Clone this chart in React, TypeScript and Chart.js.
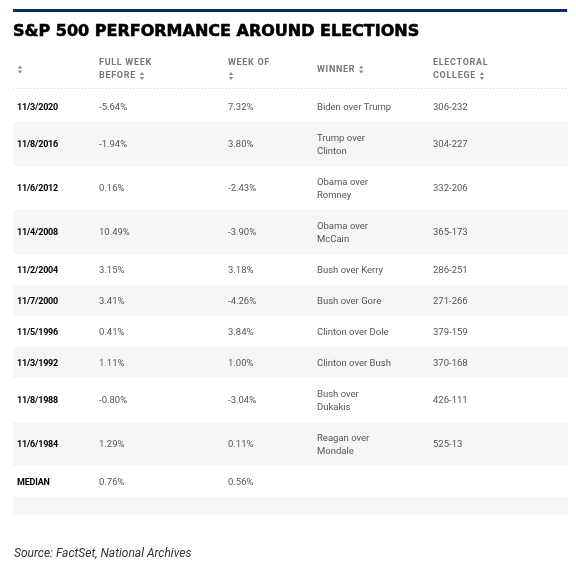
import React, { useEffect, useRef } from "react";
import { Chart, registerables } from "chart.js";

Chart.register(...registerables);

const TITLE = "S&P 500 PERFORMANCE AROUND ELECTIONS";
const SOURCE = "Source: FactSet, National Archives";
const HEADERS = ["", "FULL WEEK\nBEFORE", "WEEK OF\n", "WINNER", "ELECTORAL\nCOLLEGE"];

const dates = ["11/3/2020", "11/8/2016", "11/6/2012", "11/4/2008", "11/2/2004", "11/7/2000", "11/5/1996", "11/3/1992", "11/8/1988", "11/6/1984", "MEDIAN", ""];
const fullWeekBefore = ["-5.64%", "-1.94%", "0.16%", "10.49%", "3.15%", "3.41%", "0.41%", "1.11%", "-0.80%", "1.29%", "0.76%", ""];
const weekOf = ["7.32%", "3.80%", "-2.43%", "-3.90%", "3.18%", "-4.26%", "3.84%", "1.00%", "-3.04%", "0.11%", "0.56%", ""];
const winners = ["Biden over Trump", "Trump over\nClinton", "Obama over\nRomney", "Obama over\nMcCain", "Bush over Kerry", "Bush over Gore", "Clinton over Dole", "Clinton over Bush", "Bush over\nDukakis", "Reagan over\nMondale", "", ""];
const electoral = ["306-232", "304-227", "332-206", "365-173", "286-251", "271-266", "379-159", "370-168", "426-111", "525-13", "", ""];

const COLUMNS = [dates, fullWeekBefore, weekOf, winners, electoral];

export default function App() {
  const ref = useRef<HTMLCanvasElement | null>(null);

  useEffect(() => {
    document.body.style.margin = "0";
    const canvas = ref.current;
    if (!canvas) return;

    const BASE = 18;
    const LINE = 13;
    const COL_X = [17, 99, 228, 317, 433];

    const nRows = dates.length;
    const lineCounts: number[] = [];
    for (let i = 0; i < nRows; i++) {
      let m = 0;
      COLUMNS.forEach((col) => {
        const v = col[i];
        if (v) m = Math.max(m, v.split("\n").length);
      });
      lineCounts.push(m);
    }
    const starts: number[] = [];
    let acc = 0;
    lineCounts.forEach((n) => {
      starts.push(acc);
      acc += BASE + LINE * n;
    });
    const total = acc;

    const datasets = dates.map((d, i) => ({
      label: d || "blank",
      data: [[starts[i], starts[i] + BASE + LINE * lineCounts[i]]] as any,
      backgroundColor: i % 2 === 1 ? "#f6f6f6" : "#ffffff",
      borderWidth: 0,
      grouped: false,
      barPercentage: 1,
      categoryPercentage: 1,
      inflateAmount: 0,
    }));

    const drawSort = (ctx: CanvasRenderingContext2D, x: number, y: number) => {
      ctx.save();
      ctx.fillStyle = "#8a8a8a";
      ctx.beginPath();
      ctx.moveTo(x, y - 4);
      ctx.lineTo(x - 2.2, y - 1);
      ctx.lineTo(x + 2.2, y - 1);
      ctx.closePath();
      ctx.fill();
      ctx.beginPath();
      ctx.moveTo(x, y + 4);
      ctx.lineTo(x - 2.2, y + 1);
      ctx.lineTo(x + 2.2, y + 1);
      ctx.closePath();
      ctx.fill();
      ctx.restore();
    };

    const tablePlugin = {
      id: "tableText",
      afterDatasetsDraw(chart: any) {
        const ctx: CanvasRenderingContext2D = chart.ctx;
        const area = chart.chartArea;
        const yScale = chart.scales.y;
        ctx.save();
        // top rule
        ctx.fillStyle = "#0c2c69";
        ctx.fillRect(area.left, 9, area.right - area.left - 1, 3);
        // title
        ctx.fillStyle = "#000000";
        ctx.strokeStyle = "#000000";
        ctx.lineWidth = 0.6;
        ctx.textBaseline = "middle";
        ctx.textAlign = "left";
        ctx.font = "bold 16px 'DejaVu Sans'";
        ctx.fillText(TITLE, area.left, 32);
        ctx.strokeText(TITLE, area.left, 32);
        // header separator
        ctx.strokeStyle = "#d4d4d4";
        ctx.lineWidth = 1;
        ctx.setLineDash([1, 2]);
        ctx.beginPath();
        ctx.moveTo(area.left, area.top - 2.5);
        ctx.lineTo(area.right, area.top - 2.5);
        ctx.stroke();
        ctx.setLineDash([]);
        // headers
        const hc = 69.5;
        ctx.font = "bold 9px Roboto";
        (ctx as any).letterSpacing = "0.7px";
        ctx.fillStyle = "#777777";
        HEADERS.forEach((h, c) => {
          const lines = h === "" ? [""] : h.split("\n");
          const n = lines.length;
          lines.forEach((ln, k) => {
            const y = hc + (k - (n - 1) / 2) * LINE;
            ctx.fillText(ln, COL_X[c], y);
            if (k === n - 1) {
              const w = ln ? ctx.measureText(ln).width + 6 : 3;
              drawSort(ctx, COL_X[c] + w, y);
            }
          });
        });
        (ctx as any).letterSpacing = "0px";
        // cells
        for (let i = 0; i < nRows; i++) {
          const mid = yScale.getPixelForValue(starts[i] + (BASE + LINE * lineCounts[i]) / 2) + 1;
          COLUMNS.forEach((col, c) => {
            const v = col[i];
            if (!v) return;
            if (c === 0) {
              ctx.font = "bold 9px Roboto";
              ctx.fillStyle = "#000000";
              (ctx as any).letterSpacing = "-0.2px";
            } else {
              ctx.font = "9.5px Roboto";
              ctx.fillStyle = "#555555";
              (ctx as any).letterSpacing = "0px";
            }
            const lines = v.split("\n");
            lines.forEach((ln, k) => {
              ctx.fillText(ln, COL_X[c], mid + (k - (lines.length - 1) / 2) * LINE);
            });
          });
        }
        (ctx as any).letterSpacing = "0px";
        // source
        ctx.font = "italic 12px Roboto";
        ctx.fillStyle = "#333333";
        ctx.fillText(SOURCE, 14, 553.5);
        ctx.restore();
      },
    };

    const chart = new Chart(canvas, {
      type: "bar",
      data: { labels: ["table"], datasets },
      options: {
        animation: false,
        responsive: false,
        layout: { padding: { left: 13, right: 8, top: 91, bottom: 50 } },
        plugins: { legend: { display: false }, tooltip: { enabled: false }, title: { display: false } },
        scales: {
          x: { display: false, offset: true },
          y: { display: false, min: 0, max: total, reverse: true },
        },
      },
      plugins: [tablePlugin],
    });
    return () => chart.destroy();
  }, []);

  return (
    <div style={{ position: "absolute", left: 0, top: 0, width: 576, height: 565, background: "#ffffff" }}>
      <canvas ref={ref} width={576} height={565} />
    </div>
  );
}
